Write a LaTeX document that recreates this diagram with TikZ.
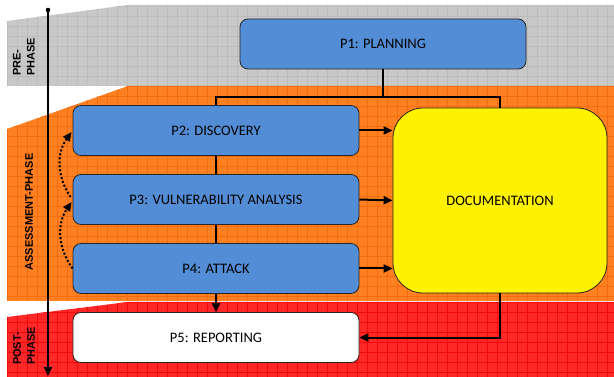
\documentclass[tikz,border=0pt]{standalone}
\usepackage{fontspec}
\setmainfont{Carlito}
\newfontfamily\phasefont{Liberation Sans}
\usetikzlibrary{arrows.meta}

\definecolor{bandgray}{RGB}{200,200,200}
\definecolor{gridgray}{RGB}{188,188,188}
\definecolor{bandorange}{RGB}{255,128,32}
\definecolor{gridorange}{RGB}{245,108,16}
\definecolor{bandred}{RGB}{255,40,40}
\definecolor{gridred}{RGB}{240,10,10}
\definecolor{boxblue}{RGB}{83,141,213}

\tikzset{
  phasebox/.style={draw=black!85, line width=0.8pt, rounded corners=8pt,
    minimum width=286pt, minimum height=50pt, fill=boxblue,
    font=\fontsize{14.5}{16}\selectfont},
  phaselabel/.style={rotate=90, align=left,
    font=\phasefont\bfseries\fontsize{11}{14}\selectfont},
  link/.style={line width=2pt},
}

\begin{document}
\begin{tikzpicture}[x=1pt, y=-1pt, >={Triangle[length=9pt,width=8pt]}]
  \useasboundingbox (0,0) rectangle (614,377);

  % pre-phase band
  \fill[bandgray] (7,21) -- (128,5) -- (614,5) -- (614,86) -- (7,86) -- cycle;
  \begin{scope}
    \clip (7,21) -- (128,5) -- (614,5) -- (614,86) -- (7,86) -- cycle;
    \foreach \gx in {7,17,...,617} \draw[gridgray, line width=0.8pt] (\gx,0) -- (\gx,90);
    \foreach \gy in {6,16,...,86} \draw[gridgray, line width=0.8pt] (0,\gy) -- (614,\gy);
  \end{scope}

  % assessment band
  \fill[bandorange] (7,129) -- (128,86) -- (614,86) -- (614,301) -- (7,301) -- cycle;
  \begin{scope}
    \clip (7,129) -- (128,86) -- (614,86) -- (614,301) -- (7,301) -- cycle;
    \foreach \gx in {7,17,...,617} \draw[gridorange, line width=0.8pt] (\gx,80) -- (\gx,305);
    \foreach \gy in {86,96,...,306} \draw[gridorange, line width=0.8pt] (0,\gy) -- (614,\gy);
  \end{scope}

  % post-phase band
  \fill[bandred] (7,317) -- (128,302) -- (614,302) -- (614,377) -- (7,377) -- cycle;
  \begin{scope}
    \clip (7,317) -- (128,302) -- (614,302) -- (614,377) -- (7,377) -- cycle;
    \foreach \gx in {7,17,...,617} \draw[gridred, line width=0.8pt] (\gx,300) -- (\gx,377);
    \foreach \gy in {302,312,...,377} \draw[gridred, line width=0.8pt] (0,\gy) -- (614,\gy);
  \end{scope}

  \node[phaselabel] (prelabel) at (24,57) {PRE-\\PHASE};
  \node[phaselabel] (assesslabel) at (29,212) {ASSESSMENT-PHASE};
  \node[phaselabel] (postlabel) at (24,346) {POST-\\PHASE};

  % time axis
  \coordinate (axtop) at (48,10);
  \coordinate (axbot) at (48,376);
  \fill (axtop) circle (2.3);
  \draw[line width=2pt, ->] (axtop) -- (axbot);

  \node[phasebox] (p1) at (383,44) {P1: PLANNING};
  \node[phasebox] (p2) at (216,130.5) {P2: DISCOVERY};
  \node[phasebox] (p3) at (216,199.5) {P3: VULNERABILITY ANALYSIS};
  \node[phasebox] (p4) at (216,268.5) {P4: ATTACK};
  \node[phasebox, fill=white] (p5) at (216,337.5) {P5: REPORTING};
  \node[draw=black!85, line width=0.8pt, rounded corners=30pt, fill=yellow,
    minimum width=214pt, minimum height=185pt,
    font=\fontsize{14.5}{16}\selectfont] (doc) at (500,200.5) {DOCUMENTATION};

  \coordinate (fork) at (383,97);
  \draw[link] (p1.south) -- (fork);
  \draw[link] (fork) -| (p2.north);
  \draw[link] (fork) -| (doc.north);
  \draw[link] (p2.south) -- (p3.north);
  \draw[link] (p3.south) -- (p4.north);
  \draw[link,->] (p4.south) -- (p5.north);
  \draw[link,->] (p2.east) -- (p2.east -| doc.west);
  \draw[link,->] (p3.east) -- (doc.west);
  \draw[link,->] (p4.east) -- (p4.east -| doc.west);
  \draw[link,->] (doc.south) |- (p5.east);

  % iterations back
  \draw[line width=2pt, dotted, ->] (p4.west) to[bend left=35] ([xshift=-1pt,yshift=-2.5pt]p3.west);
  \draw[line width=2pt, dotted, ->] ([xshift=-2pt,yshift=2.5pt]p3.west) to[bend left=35] ([xshift=-1pt,yshift=-1.5pt]p2.west);
\end{tikzpicture}
\end{document}
